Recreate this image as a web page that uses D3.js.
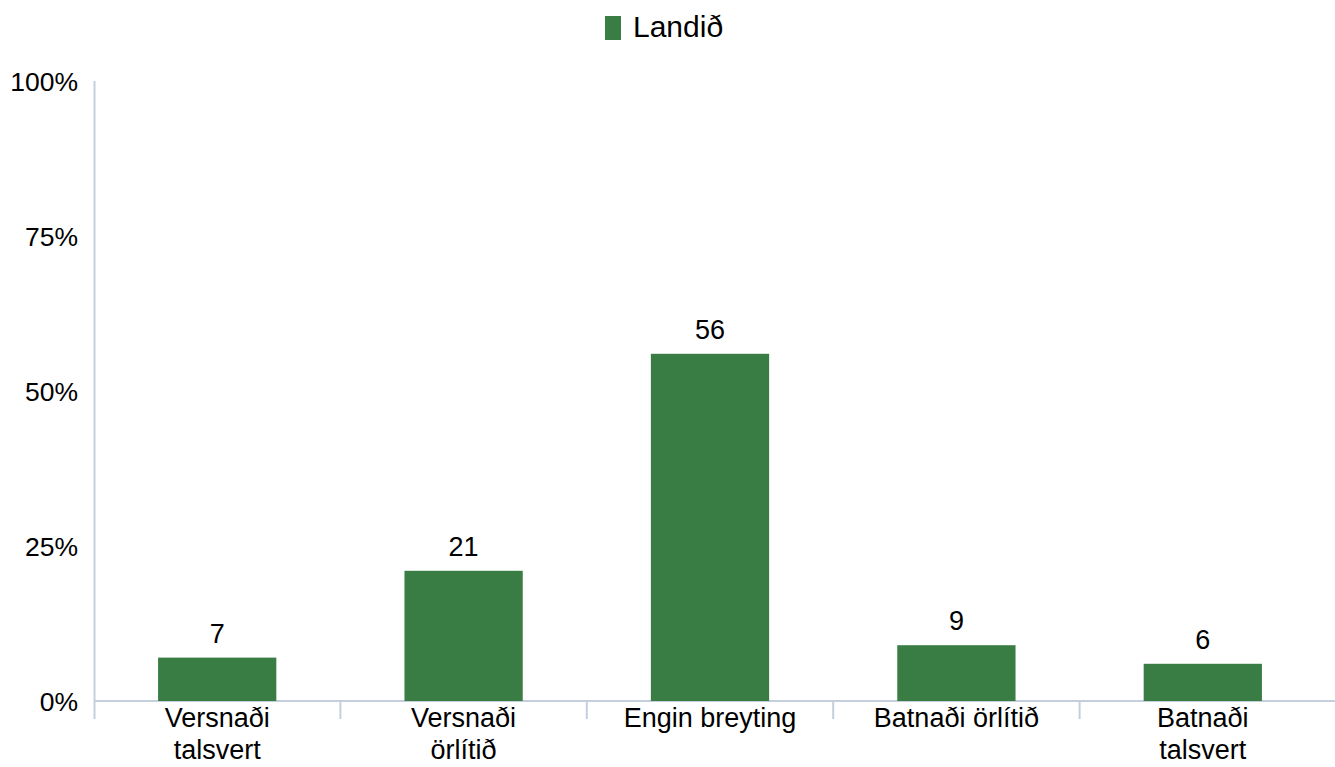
<!DOCTYPE html>
<html><head><meta charset="utf-8">
<script src="https://cdn.jsdelivr.net/npm/d3@7"></script>
<style>body{margin:0;background:#fff}svg{display:block}text{font-family:"Liberation Sans",Arial,sans-serif;fill:#000}</style>
</head><body>
<script>
const categories = [["Versnaði","talsvert"],["Versnaði","örlítið"],["Engin breyting"],["Batnaði örlítið"],["Batnaði","talsvert"]];
const values = [7, 21, 56, 9, 6];
const yTicks = [0, 25, 50, 75, 100];
const seriesName = "Landið";

const W = 1335, H = 767;
const svg = d3.select("body").append("svg").attr("width", W).attr("height", H);
const x0 = 94, x1 = 1326, yTop = 81, yBot = 701;
const x = d3.scaleBand().domain(d3.range(categories.length)).range([x0, x1]).paddingInner(0.52).paddingOuter(0.26);
const y = d3.scaleLinear().domain([0, 100]).range([yBot, yTop]);
const axisColor = "#c3cfdd";
const green = "#3a7d44";

svg.append("line").attr("x1", x0 + 0.5).attr("x2", x0 + 0.5).attr("y1", yTop).attr("y2", 719).attr("stroke", axisColor).attr("stroke-width", 2);
svg.append("line").attr("x1", x0).attr("x2", 1335).attr("y1", yBot).attr("y2", yBot).attr("stroke", axisColor).attr("stroke-width", 2);
d3.range(1, categories.length).forEach(i => {
  const xx = x0 + i * (x1 - x0) / categories.length;
  svg.append("line").attr("x1", xx).attr("x2", xx).attr("y1", yBot).attr("y2", 719).attr("stroke", axisColor).attr("stroke-width", 2);
});

svg.selectAll(".yt").data(yTicks).join("text").attr("class", "yt")
  .attr("x", 78).attr("y", d => y(d) + 10).attr("text-anchor", "end")
  .attr("font-size", 26.5).text(d => d + "%");

svg.selectAll(".bar").data(values).join("rect").attr("class", "bar")
  .attr("x", (d, i) => x(i)).attr("width", x.bandwidth())
  .attr("y", d => y(d)).attr("height", d => yBot - y(d)).attr("fill", green);

svg.selectAll(".vl").data(values).join("text").attr("class", "vl")
  .attr("x", (d, i) => x(i) + x.bandwidth() / 2).attr("y", d => y(d) - 15)
  .attr("text-anchor", "middle").attr("font-size", 27).text(d => d);

categories.forEach((lines, i) => {
  const cx = x(i) + x.bandwidth() / 2;
  const t = svg.append("text").attr("x", cx).attr("y", 727)
    .attr("text-anchor", "middle").attr("font-size", 27);
  lines.forEach((l, j) => t.append("tspan").attr("x", cx).attr("dy", j ? 32 : 0).text(l));
});

svg.append("rect").attr("x", 605).attr("y", 16).attr("width", 16).attr("height", 24).attr("fill", green);
svg.append("text").attr("x", 633).attr("y", 37).attr("font-size", 30).text(seriesName);
</script>
</body></html>
